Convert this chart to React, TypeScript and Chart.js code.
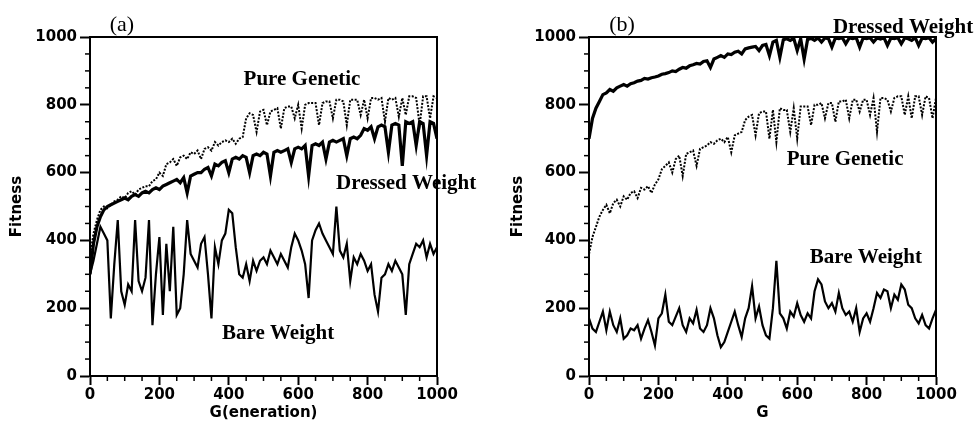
import React, { useEffect, useRef } from "react";
import { Chart, registerables } from "chart.js";
Chart.register(...registerables);

// Generation (x) values shared by every series
const GEN = [0,10,20,30,40,50,60,70,80,90,100,110,120,130,140,150,160,170,180,190,200,210,220,230,240,250,260,270,280,290,300,310,320,330,340,350,360,370,380,390,400,410,420,430,440,450,460,470,480,490,500,510,520,530,540,550,560,570,580,590,600,610,620,630,640,650,660,670,680,690,700,710,720,730,740,750,760,770,780,790,800,810,820,830,840,850,860,870,880,890,900,910,920,930,940,950,960,970,980,990,1000];

// Panel (a)
const PURE_A = [350,420,460,490,500,495,505,515,520,530,525,540,545,535,550,555,560,560,575,580,600,590,625,630,640,620,645,650,640,660,655,665,640,670,675,665,690,680,690,695,690,700,685,700,705,760,775,770,720,780,785,740,780,785,790,730,790,795,795,760,800,730,800,805,805,805,740,805,810,810,760,815,815,810,740,815,815,815,770,815,760,820,820,815,820,750,820,815,820,765,820,770,825,825,820,740,825,825,760,825,820];
const DRESSED_A = [300,390,440,470,490,500,505,510,515,520,525,520,530,535,530,540,545,540,550,555,550,560,565,570,575,580,570,585,540,590,595,600,600,610,615,590,625,620,630,635,600,640,645,640,650,645,600,650,655,650,660,655,590,660,665,660,665,670,630,670,675,670,680,590,680,685,680,690,640,690,695,690,695,700,650,700,705,700,710,730,725,735,700,735,740,735,660,740,745,740,620,750,745,750,680,750,745,650,750,745,700];
const BARE_A = [300,340,390,440,420,400,170,330,460,250,210,270,250,460,280,250,290,460,150,300,410,180,390,250,440,180,200,300,460,360,340,320,390,410,300,170,380,330,400,420,490,480,380,300,290,330,280,340,310,340,350,330,370,350,330,360,340,320,380,420,400,370,330,230,400,430,450,420,400,380,360,500,370,350,390,280,350,330,360,340,310,330,240,190,290,300,330,310,340,320,300,180,330,360,390,380,400,350,390,360,380];

// Panel (b)
const PURE_B = [360,410,440,470,490,505,480,510,520,500,530,520,540,545,525,555,550,560,540,565,580,610,620,630,600,640,650,590,655,660,665,620,670,675,680,690,685,695,700,690,705,660,710,715,720,755,765,770,710,775,780,780,700,785,690,790,785,785,720,790,700,795,795,795,740,800,800,805,760,805,805,750,810,810,815,760,815,815,780,815,815,770,820,720,820,820,815,780,820,825,825,770,825,760,825,825,770,825,820,760,820];
const DRESSED_B = [700,760,790,810,830,835,845,840,850,855,860,855,862,865,870,872,878,876,880,882,885,890,892,895,900,898,905,910,908,915,918,922,920,928,930,910,935,940,945,940,950,948,955,958,950,965,968,970,972,960,975,978,945,985,990,940,992,995,990,996,960,995,935,993,996,990,997,985,997,995,970,997,995,998,980,997,995,998,970,997,995,998,985,997,994,998,975,997,995,998,980,997,995,990,998,975,997,995,998,985,995];
const BARE_B = [170,140,130,160,190,135,190,150,130,170,110,120,140,135,150,110,140,165,130,90,170,185,240,160,150,175,200,150,130,170,155,195,140,130,150,200,170,120,85,100,130,160,190,150,115,170,200,265,170,205,150,120,110,200,340,185,170,140,190,175,215,180,160,185,170,250,285,270,220,200,215,190,245,200,180,190,160,200,130,170,185,160,200,245,230,255,250,200,240,225,270,255,210,200,170,155,180,150,140,170,195];

const AXIS_TICKS = [0, 200, 400, 600, 800, 1000];

type Label = { text: string; x: number; y: number; font: string };

const LABELS_A: Label[] = [
  { text: "(a)", x: 92, y: 1035, font: '22px "Liberation Serif"' },
  { text: "Pure Genetic", x: 611, y: 873, font: 'bold 21px "Liberation Serif"' },
  { text: "Dressed Weight", x: 911, y: 569, font: 'bold 21px "Liberation Serif"' },
  { text: "Bare Weight", x: 542, y: 124, font: 'bold 21px "Liberation Serif"' },
];
const LABELS_B: Label[] = [
  { text: "(b)", x: 95, y: 1035, font: '22px "Liberation Serif"' },
  { text: "Dressed Weight", x: 905, y: 1029, font: 'bold 21px "Liberation Serif"' },
  { text: "Pure Genetic", x: 738, y: 637, font: 'bold 21px "Liberation Serif"' },
  { text: "Bare Weight", x: 798, y: 348, font: 'bold 21px "Liberation Serif"' },
];

const framePlugin = {
  id: "frame",
  afterDraw(chart: any, _args: any, opts: any) {
    const { ctx, chartArea } = chart;
    const xs = chart.scales.x;
    const ys = chart.scales.y;
    ctx.save();
    ctx.strokeStyle = "#000";
    ctx.lineWidth = 2;
    ctx.beginPath();
    ctx.moveTo(chartArea.left, chartArea.top);
    ctx.lineTo(chartArea.right, chartArea.top);
    ctx.lineTo(chartArea.right, chartArea.bottom);
    ctx.stroke();
    // minor ticks
    ctx.lineWidth = 1.5;
    for (let v = 50; v < 1000; v += 50) {
      if (v % 200 === 0) continue;
      const px = xs.getPixelForValue(v);
      ctx.beginPath();
      ctx.moveTo(px, chartArea.bottom);
      ctx.lineTo(px, chartArea.bottom + 5);
      ctx.stroke();
      const py = ys.getPixelForValue(v);
      ctx.beginPath();
      ctx.moveTo(chartArea.left, py);
      ctx.lineTo(chartArea.left - 5, py);
      ctx.stroke();
    }
    // annotations
    ctx.fillStyle = "#000";
    ctx.textAlign = "center";
    ctx.textBaseline = "middle";
    for (const l of (opts.labels || []) as Label[]) {
      ctx.font = l.font;
      ctx.fillText(l.text, xs.getPixelForValue(l.x), ys.getPixelForValue(l.y));
    }
    ctx.restore();
  },
};

const tickFont = { family: "DejaVu Sans", weight: "bold" as const, size: 15 };
const titleFont = { family: "DejaVu Sans", weight: "bold" as const, size: 15 };

function makeConfig(pure: number[], dressed: number[], bare: number[], xTitle: string, yW: number, yTitlePad: number, padRight: number, labels: Label[]) {
  const pts = (arr: number[]) => GEN.map((g, i) => ({ x: g, y: arr[i] }));
  return {
    type: "line" as const,
    data: {
      datasets: [
        { label: "Pure Genetic", data: pts(pure), borderColor: "#000", borderWidth: 2, borderDash: [2, 1.5], pointRadius: 0, tension: 0 },
        { label: "Dressed Weight", data: pts(dressed), borderColor: "#000", borderWidth: 3.2, pointRadius: 0, tension: 0 },
        { label: "Bare Weight", data: pts(bare), borderColor: "#000", borderWidth: 2.2, pointRadius: 0, tension: 0 },
      ],
    },
    options: {
      animation: false,
      responsive: false,
      maintainAspectRatio: false,
      layout: { padding: { left: 0, right: padRight, top: 37, bottom: 0 } },
      plugins: { legend: { display: false }, tooltip: { enabled: false }, frame: { labels } },
      scales: {
        x: {
          type: "linear",
          min: 0,
          max: 1000,
          afterBuildTicks: (s: any) => { s.ticks = AXIS_TICKS.map((v) => ({ value: v })); },
          ticks: { color: "#000", font: tickFont, padding: 1, maxRotation: 0, autoSkip: false, callback: (v: any) => String(v) },
          grid: { drawOnChartArea: false, drawTicks: true, tickLength: 9, tickWidth: 2, tickColor: "#000", color: "#000" },
          border: { display: true, color: "#000", width: 2 },
          title: { display: true, text: xTitle, color: "#000", font: titleFont, padding: { top: 0, bottom: 14 } },
          afterFit: (s: any) => { s.height = 60; },
        },
        y: {
          type: "linear",
          min: 0,
          max: 1000,
          afterBuildTicks: (s: any) => { s.ticks = AXIS_TICKS.map((v) => ({ value: v })); },
          ticks: { color: "#000", font: tickFont, padding: 3, autoSkip: false, callback: (v: any) => String(v) },
          grid: { drawOnChartArea: false, drawTicks: true, tickLength: 10, tickWidth: 2, tickColor: "#000", color: "#000" },
          border: { display: true, color: "#000", width: 2 },
          title: { display: true, text: "Fitness", color: "#000", font: titleFont, padding: { top: yTitlePad, bottom: 0 } },
          afterFit: (s: any) => { s.width = yW; },
        },
      },
    },
    plugins: [framePlugin],
  };
}

export default function App() {
  const refA = useRef<HTMLCanvasElement>(null);
  const refB = useRef<HTMLCanvasElement>(null);
  useEffect(() => {
    const a = new Chart(refA.current as HTMLCanvasElement, makeConfig(PURE_A, DRESSED_A, BARE_A, "G(eneration)", 90, 8, 53, LABELS_A) as any);
    const b = new Chart(refB.current as HTMLCanvasElement, makeConfig(PURE_B, DRESSED_B, BARE_B, "G", 99, 19, 43, LABELS_B) as any);
    return () => { a.destroy(); b.destroy(); };
  }, []);
  return (
    <div style={{ position: "absolute", left: 0, top: 0, width: 979, height: 436, background: "#fff" }}>
      <canvas ref={refA} width={490} height={436} style={{ position: "absolute", left: 0, top: 0, width: 490, height: 436 }} />
      <canvas ref={refB} width={489} height={436} style={{ position: "absolute", left: 490, top: 0, width: 489, height: 436 }} />
    </div>
  );
}
